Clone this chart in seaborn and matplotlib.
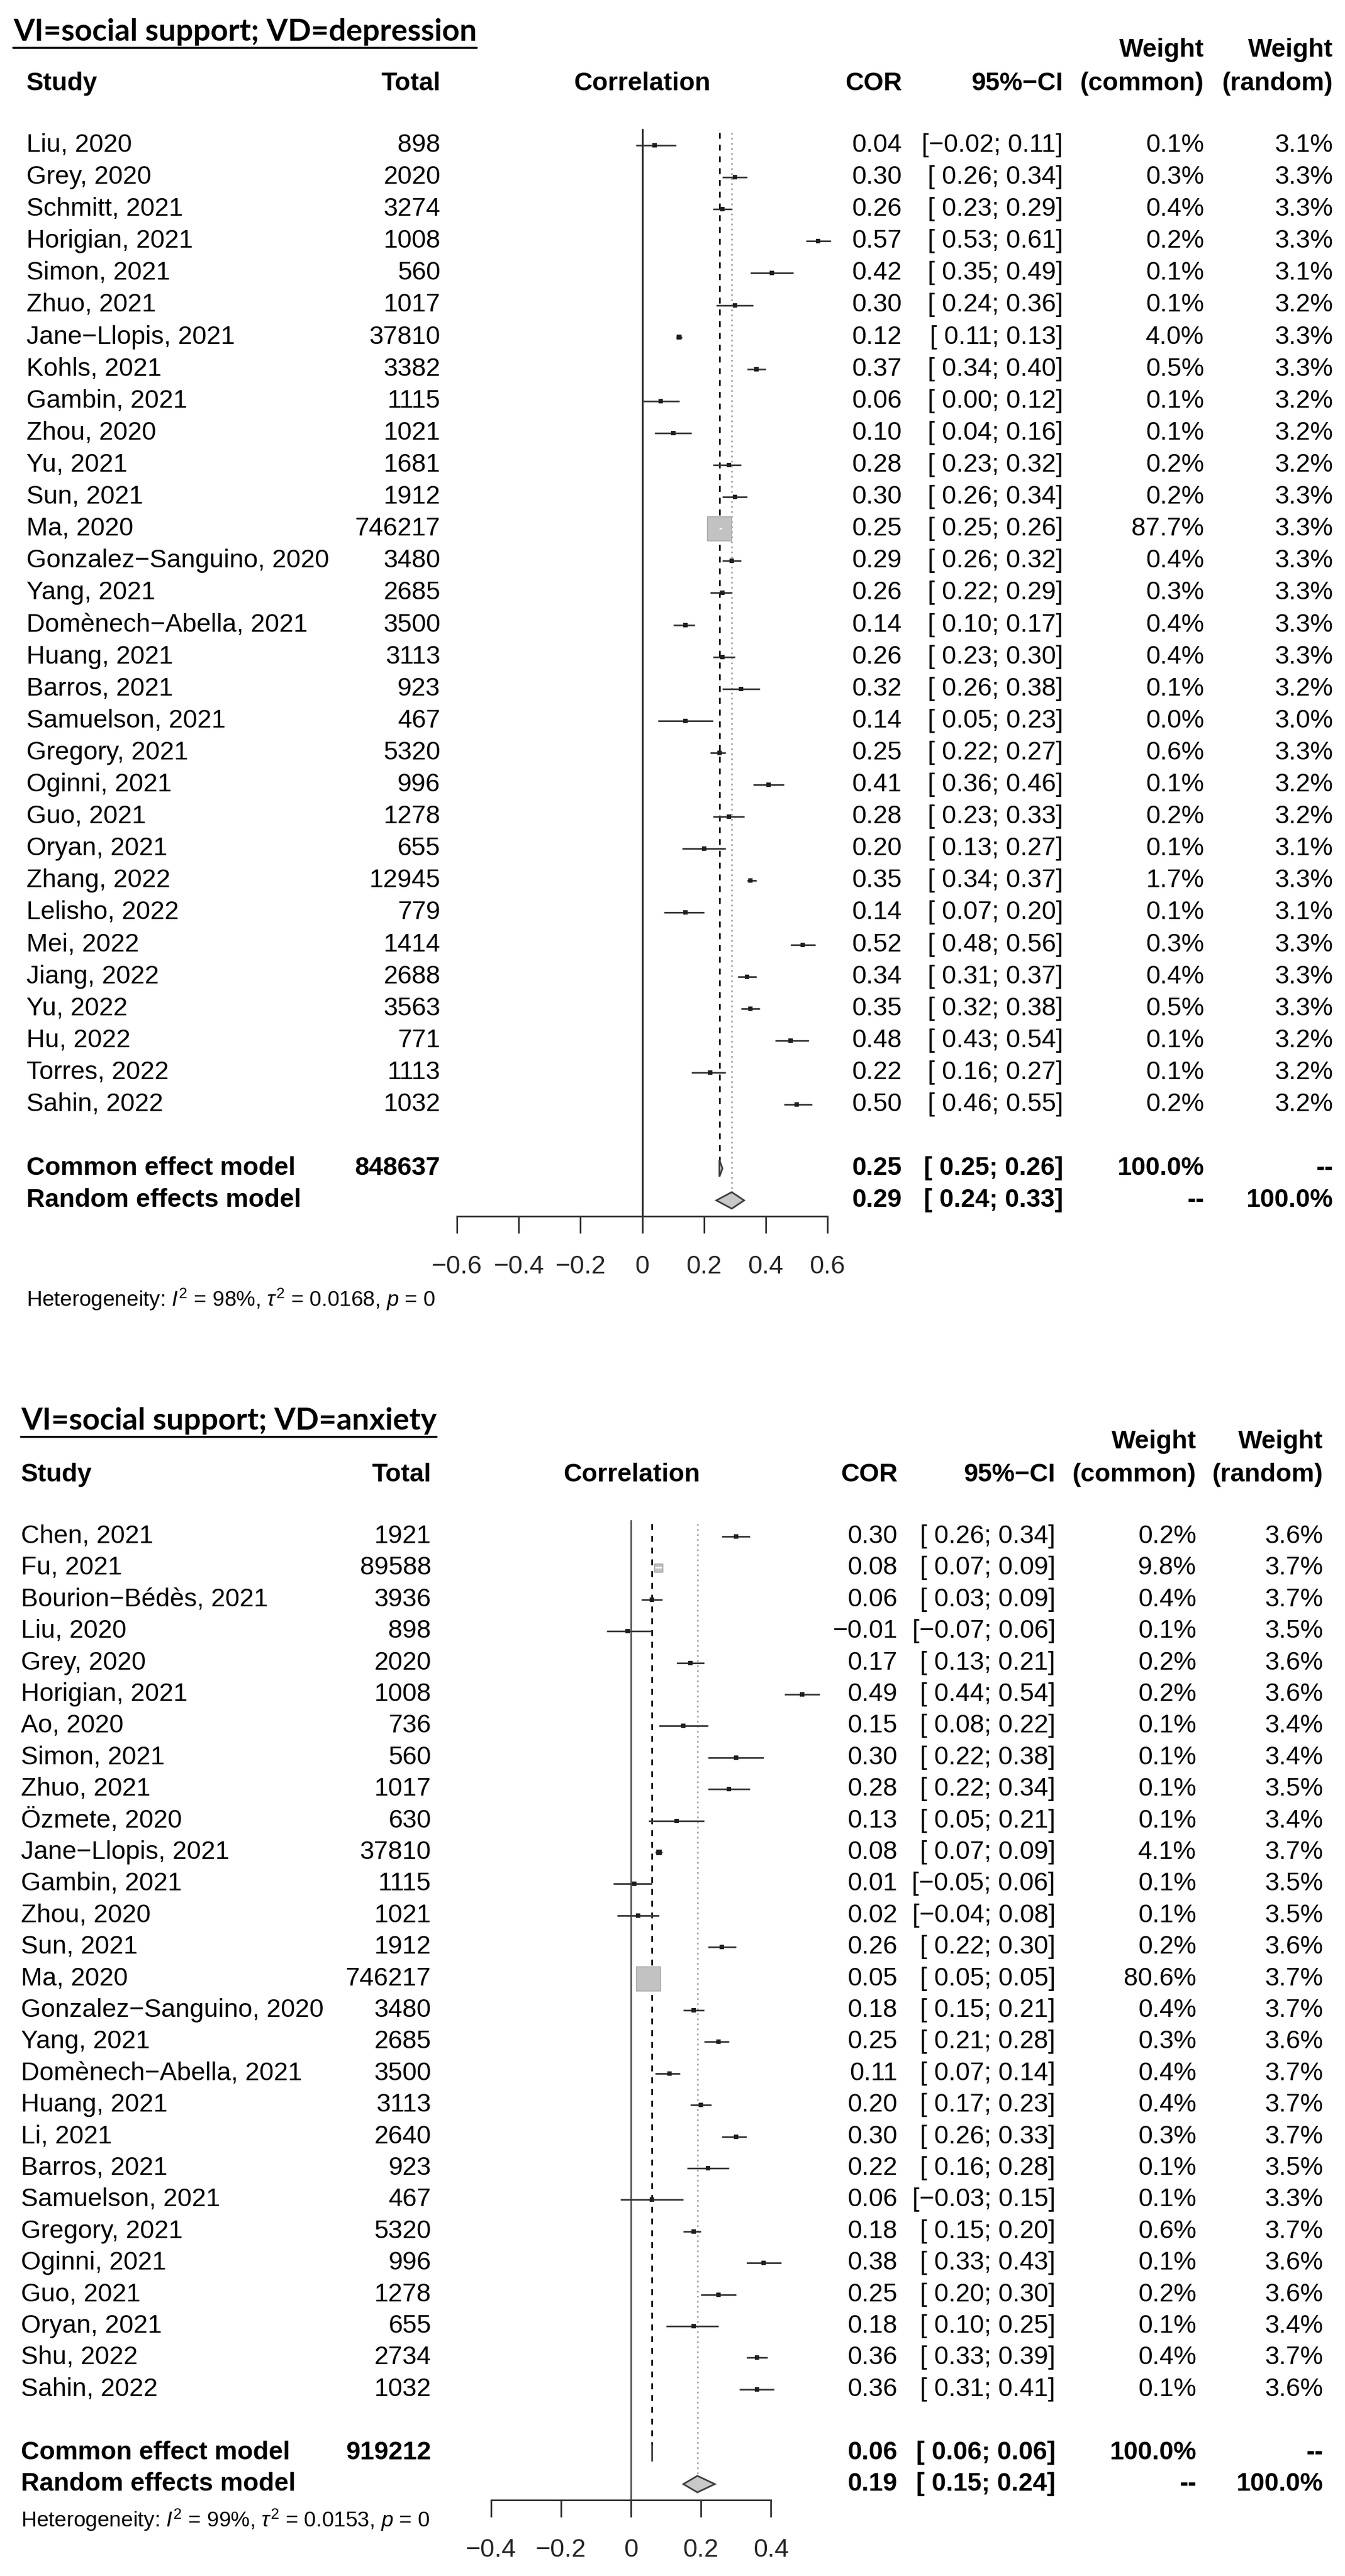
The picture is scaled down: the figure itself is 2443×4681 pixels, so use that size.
import matplotlib
matplotlib.use('Agg')
import matplotlib.pyplot as plt
import matplotlib.transforms as mtransforms
from matplotlib.lines import Line2D
import numpy as np
import pandas as pd
import seaborn as sns

MINUS = '\u2212'

# ---- VI=social support; VD=depression ----
dep_title = 'VI=social support; VD=depression'
dep_study = ['Liu, 2020', 'Grey, 2020', 'Schmitt, 2021', 'Horigian, 2021', 'Simon, 2021',
             'Zhuo, 2021', 'Jane−Llopis, 2021', 'Kohls, 2021', 'Gambin, 2021', 'Zhou, 2020',
             'Yu, 2021', 'Sun, 2021', 'Ma, 2020', 'Gonzalez−Sanguino, 2020', 'Yang, 2021',
             'Domènech−Abella, 2021', 'Huang, 2021', 'Barros, 2021', 'Samuelson, 2021',
             'Gregory, 2021', 'Oginni, 2021', 'Guo, 2021', 'Oryan, 2021', 'Zhang, 2022',
             'Lelisho, 2022', 'Mei, 2022', 'Jiang, 2022', 'Yu, 2022', 'Hu, 2022',
             'Torres, 2022', 'Sahin, 2022']
dep_total = [898, 2020, 3274, 1008, 560, 1017, 37810, 3382, 1115, 1021, 1681, 1912, 746217,
             3480, 2685, 3500, 3113, 923, 467, 5320, 996, 1278, 655, 12945, 779, 1414, 2688,
             3563, 771, 1113, 1032]
dep_cor = [0.04, 0.30, 0.26, 0.57, 0.42, 0.30, 0.12, 0.37, 0.06, 0.10, 0.28, 0.30, 0.25, 0.29,
           0.26, 0.14, 0.26, 0.32, 0.14, 0.25, 0.41, 0.28, 0.20, 0.35, 0.14, 0.52, 0.34, 0.35,
           0.48, 0.22, 0.50]
dep_lo = [-0.02, 0.26, 0.23, 0.53, 0.35, 0.24, 0.11, 0.34, 0.00, 0.04, 0.23, 0.26, 0.25, 0.26,
          0.22, 0.10, 0.23, 0.26, 0.05, 0.22, 0.36, 0.23, 0.13, 0.34, 0.07, 0.48, 0.31, 0.32,
          0.43, 0.16, 0.46]
dep_hi = [0.11, 0.34, 0.29, 0.61, 0.49, 0.36, 0.13, 0.40, 0.12, 0.16, 0.32, 0.34, 0.26, 0.32,
          0.29, 0.17, 0.30, 0.38, 0.23, 0.27, 0.46, 0.33, 0.27, 0.37, 0.20, 0.56, 0.37, 0.38,
          0.54, 0.27, 0.55]
dep_w_common = [0.1, 0.3, 0.4, 0.2, 0.1, 0.1, 4.0, 0.5, 0.1, 0.1, 0.2, 0.2, 87.7, 0.4, 0.3,
                0.4, 0.4, 0.1, 0.0, 0.6, 0.1, 0.2, 0.1, 1.7, 0.1, 0.3, 0.4, 0.5, 0.1, 0.1, 0.2]
dep_w_random = [3.1, 3.3, 3.3, 3.3, 3.1, 3.2, 3.3, 3.3, 3.2, 3.2, 3.2, 3.3, 3.3, 3.3, 3.3,
                3.3, 3.3, 3.2, 3.0, 3.3, 3.2, 3.2, 3.1, 3.3, 3.1, 3.3, 3.3, 3.3, 3.2, 3.2, 3.2]
dep_common_total = 848637
dep_common = [0.25, 0.25, 0.26]   # estimate, lower, upper
dep_random = [0.29, 0.24, 0.33]
dep_het = [98, 0.0168, 0]         # I2 %, tau2, p
dep_ticks = [-0.6, -0.4, -0.2, 0, 0.2, 0.4, 0.6]

# ---- VI=social support; VD=anxiety ----
anx_title = 'VI=social support; VD=anxiety'
anx_study = ['Chen, 2021', 'Fu, 2021', 'Bourion−Bédès, 2021', 'Liu, 2020', 'Grey, 2020',
             'Horigian, 2021', 'Ao, 2020', 'Simon, 2021', 'Zhuo, 2021', 'Özmete, 2020',
             'Jane−Llopis, 2021', 'Gambin, 2021', 'Zhou, 2020', 'Sun, 2021', 'Ma, 2020',
             'Gonzalez−Sanguino, 2020', 'Yang, 2021', 'Domènech−Abella, 2021', 'Huang, 2021',
             'Li, 2021', 'Barros, 2021', 'Samuelson, 2021', 'Gregory, 2021', 'Oginni, 2021',
             'Guo, 2021', 'Oryan, 2021', 'Shu, 2022', 'Sahin, 2022']
anx_total = [1921, 89588, 3936, 898, 2020, 1008, 736, 560, 1017, 630, 37810, 1115, 1021, 1912,
             746217, 3480, 2685, 3500, 3113, 2640, 923, 467, 5320, 996, 1278, 655, 2734, 1032]
anx_cor = [0.30, 0.08, 0.06, -0.01, 0.17, 0.49, 0.15, 0.30, 0.28, 0.13, 0.08, 0.01, 0.02, 0.26,
           0.05, 0.18, 0.25, 0.11, 0.20, 0.30, 0.22, 0.06, 0.18, 0.38, 0.25, 0.18, 0.36, 0.36]
anx_lo = [0.26, 0.07, 0.03, -0.07, 0.13, 0.44, 0.08, 0.22, 0.22, 0.05, 0.07, -0.05, -0.04, 0.22,
          0.05, 0.15, 0.21, 0.07, 0.17, 0.26, 0.16, -0.03, 0.15, 0.33, 0.20, 0.10, 0.33, 0.31]
anx_hi = [0.34, 0.09, 0.09, 0.06, 0.21, 0.54, 0.22, 0.38, 0.34, 0.21, 0.09, 0.06, 0.08, 0.30,
          0.05, 0.21, 0.28, 0.14, 0.23, 0.33, 0.28, 0.15, 0.20, 0.43, 0.30, 0.25, 0.39, 0.41]
anx_w_common = [0.2, 9.8, 0.4, 0.1, 0.2, 0.2, 0.1, 0.1, 0.1, 0.1, 4.1, 0.1, 0.1, 0.2, 80.6,
                0.4, 0.3, 0.4, 0.4, 0.3, 0.1, 0.1, 0.6, 0.1, 0.2, 0.1, 0.4, 0.1]
anx_w_random = [3.6, 3.7, 3.7, 3.5, 3.6, 3.6, 3.4, 3.4, 3.5, 3.4, 3.7, 3.5, 3.5, 3.6, 3.7,
                3.7, 3.6, 3.7, 3.7, 3.7, 3.5, 3.3, 3.7, 3.6, 3.6, 3.4, 3.7, 3.6]
anx_common_total = 919212
anx_common = [0.06, 0.06, 0.06]
anx_random = [0.19, 0.15, 0.24]
anx_het = [99, 0.0153, 0]
anx_ticks = [-0.4, -0.2, 0, 0.2, 0.4]

W, H, DPI = 2443, 4681, 100

sns.set_theme(style='white')
plt.rcParams['font.family'] = ['Liberation Sans', 'DejaVu Sans']
plt.rcParams['mathtext.fontset'] = 'custom'
plt.rcParams['mathtext.rm'] = 'Liberation Sans'
plt.rcParams['mathtext.it'] = 'Liberation Sans:italic'
plt.rcParams['mathtext.bf'] = 'Liberation Sans:bold'
plt.rcParams['axes.unicode_minus'] = True

FS = 33.5
HET_FS = 28
TITLE_FS = 40
LW = 2.2
LINE_COL = '#3a3a3a'


def num(v):
    return f'{v:.2f}'.replace('-', MINUS)


def ci_text(lo, hi):
    left = '[' if lo < 0 else '[ '
    return f'{left}{num(lo)}; {num(hi)}]'


def tick_text(v):
    return '0' if v == 0 else f'{v:g}'.replace('-', MINUS)


def forest(fig, d, g):
    n = len(d['study'])
    rows = np.arange(n)
    r_common, r_random = n + 1, n + 2
    ybot = r_random + 0.5
    ytop = -0.5
    x0, x1 = g['ax_px']
    ax = fig.add_axes([x0 / W, 1 - (g['row0'] + ybot * g['step']) / H,
                       (x1 - x0) / W, (ybot - ytop) * g['step'] / H])
    ax.set_xlim(d['ticks'][0], d['ticks'][-1])
    ax.set_ylim(ybot, ytop)
    ax.set_facecolor('none')
    ppu = (x1 - x0) / (d['ticks'][-1] - d['ticks'][0])   # pixels per unit
    dh = 15 / g['step']                                     # diamond half height in rows

    # reference lines
    ax.plot([0, 0], [ytop, ybot], color=g['zero_col'], lw=LW, clip_on=False, zorder=1)
    ax.plot([d['common'][0]] * 2, [-0.4, r_common], color='black', lw=LW,
            ls=(0, (3.5, 3.5)), clip_on=False, zorder=1)
    ax.plot([d['random'][0]] * 2, [-0.4, r_random - dh], color='#a8a8a8', lw=LW,
            ls=(0, (1, 2)), clip_on=False, zorder=1)

    df = pd.DataFrame({'row': rows, 'cor': d['cor'], 'lo': d['lo'], 'hi': d['hi'],
                       'w': d['w_common']})
    wmax = df['w'].max()
    df['side'] = np.maximum(44 * np.sqrt(df['w'] / wmax), 8)
    df['s'] = (df['side'] * 72 / DPI) ** 2
    df['inside'] = df['side'] > (df['hi'] - df['lo']) * ppu

    ax.hlines(df['row'], df['lo'], df['hi'], color=LINE_COL, lw=LW, zorder=2, clip_on=False)
    small = df[df['side'] < 12]
    big = df[df['side'] >= 12]
    sns.scatterplot(x=small['cor'], y=small['row'], marker='s', s=small['s'], color='#1e1e1e',
                    edgecolor='none', linewidth=0, ax=ax, legend=False, zorder=3, clip_on=False)
    sns.scatterplot(x=big['cor'], y=big['row'], marker='s', s=big['s'], color='#c2c2c2',
                    edgecolor='#a8a8a8', linewidth=1.2, ax=ax, legend=False, zorder=3,
                    clip_on=False)
    ins = df[df['inside']]
    ax.hlines(ins['row'], ins['lo'], ins['hi'], color='white', lw=1.6, zorder=4)

    # summary diamonds
    for est, r in ((d['common'], r_common), (d['random'], r_random)):
        ax.fill([est[1], est[0], est[2], est[0]], [r, r - dh, r, r + dh],
                facecolor='#c8c8c8', edgecolor='#404040', lw=LW, zorder=4, clip_on=False)

    # axis
    sns.despine(ax=ax, left=True, top=True, right=True)
    ax.spines['bottom'].set_color('#333333')
    ax.spines['bottom'].set_linewidth(LW)
    ax.set_yticks([])
    ax.set_xticks(d['ticks'])
    ax.set_xticklabels([tick_text(t) for t in d['ticks']])
    ax.tick_params(axis='x', direction='out', length=22, width=LW, color='#333333',
                   labelsize=FS, pad=28, bottom=True)
    ax.set_xlabel('')
    ax.set_ylabel('')

    tr = mtransforms.blended_transform_factory(fig.transFigure, ax.transData)
    c = g['cols']

    def put(xpx, y, s, ha, bold=False, size=FS):
        ax.text(xpx / W, y, s, transform=tr, ha=ha, va='center', fontsize=size,
                fontweight='bold' if bold else 'normal', color='black', clip_on=False)

    # header
    hr = g['head_row']
    put(c['study'], hr, 'Study', 'left', True)
    put(c['total'], hr, 'Total', 'right', True)
    put(c['corr'], hr, 'Correlation', 'center', True)
    put(c['cor'], hr, 'COR', 'right', True)
    put(c['ci'], hr, '95%' + MINUS + 'CI', 'right', True)
    put(c['wc'], hr, '(common)', 'right', True)
    put(c['wr'], hr, '(random)', 'right', True)
    put(c['wc'], hr - 1.05, 'Weight', 'right', True)
    put(c['wr'], hr - 1.05, 'Weight', 'right', True)

    for i in range(n):
        put(c['study'], i, d['study'][i], 'left')
        put(c['total'], i, str(d['total'][i]), 'right')
        put(c['cor'], i, num(d['cor'][i]), 'right')
        put(c['ci'], i, ci_text(d['lo'][i], d['hi'][i]), 'right')
        put(c['wc'], i, f"{d['w_common'][i]:.1f}%", 'right')
        put(c['wr'], i, f"{d['w_random'][i]:.1f}%", 'right')

    put(c['study'], r_common, 'Common effect model', 'left', True)
    put(c['total'], r_common, str(d['common_total']), 'right', True)
    put(c['cor'], r_common, num(d['common'][0]), 'right', True)
    put(c['ci'], r_common, ci_text(d['common'][1], d['common'][2]), 'right', True)
    put(c['wc'], r_common, '100.0%', 'right', True)
    put(c['wr'], r_common, '--', 'right', True)
    put(c['study'], r_random, 'Random effects model', 'left', True)
    put(c['cor'], r_random, num(d['random'][0]), 'right', True)
    put(c['ci'], r_random, ci_text(d['random'][1], d['random'][2]), 'right', True)
    put(c['wc'], r_random, '--', 'right', True)
    put(c['wr'], r_random, '100.0%', 'right', True)

    i2, tau2, p = d['het']
    het = (r'Heterogeneity: $I^2$ = ' + f'{i2}%, ' + r'$\tau^2$ = ' + f'{tau2:.4f}, '
           + r'$p$ = ' + f'{p}')
    put(c['study'], g['het_row'], het, 'left', size=HET_FS)

    t = ax.text(g['title_px'] / W, g['title_row'], d['title'], transform=tr, ha='left',
                va='center', fontsize=TITLE_FS, fontweight='bold',
                family=['Lato', 'DejaVu Sans'], color='black')
    return ax, t


dep = dict(title=dep_title, study=dep_study, total=dep_total, cor=dep_cor, lo=dep_lo,
           hi=dep_hi, w_common=dep_w_common, w_random=dep_w_random,
           common_total=dep_common_total, common=dep_common, random=dep_random,
           het=dep_het, ticks=dep_ticks)
anx = dict(title=anx_title, study=anx_study, total=anx_total, cor=anx_cor, lo=anx_lo,
           hi=anx_hi, w_common=anx_w_common, w_random=anx_w_random,
           common_total=anx_common_total, common=anx_common, random=anx_random,
           het=anx_het, ticks=anx_ticks)

geom_dep = dict(ax_px=(830, 1503), row0=264, step=58.1, head_row=-1.93, het_row=36.1,
                title_row=-3.55, title_px=24, zero_col='#222222',
                cols=dict(study=48, total=800, corr=1166, cor=1638, ci=1931, wc=2187, wr=2421))
geom_anx = dict(ax_px=(892, 1400), row0=2792, step=57.4, head_row=-1.95, het_row=31.13,
                title_row=-3.65, title_px=38, zero_col='#5a5a5a',
                cols=dict(study=38, total=783, corr=1147, cor=1630, ci=1917, wc=2173, wr=2403))

fig = plt.figure(figsize=(W / DPI, H / DPI), dpi=DPI)
fig.patch.set_facecolor('white')

titles = []
for d, g in ((dep, geom_dep), (anx, geom_anx)):
    ax, t = forest(fig, d, g)
    titles.append(t)

# underline the panel titles
fig.canvas.draw()
renderer = fig.canvas.get_renderer()
for t in titles:
    bb = t.get_window_extent(renderer)
    y = (bb.y0 - 4) / H
    fig.add_artist(Line2D([bb.x0 / W, bb.x1 / W], [y, y], color='black', lw=2.6,
                          transform=fig.transFigure))

fig.savefig('out.png', dpi=DPI, facecolor='white')
